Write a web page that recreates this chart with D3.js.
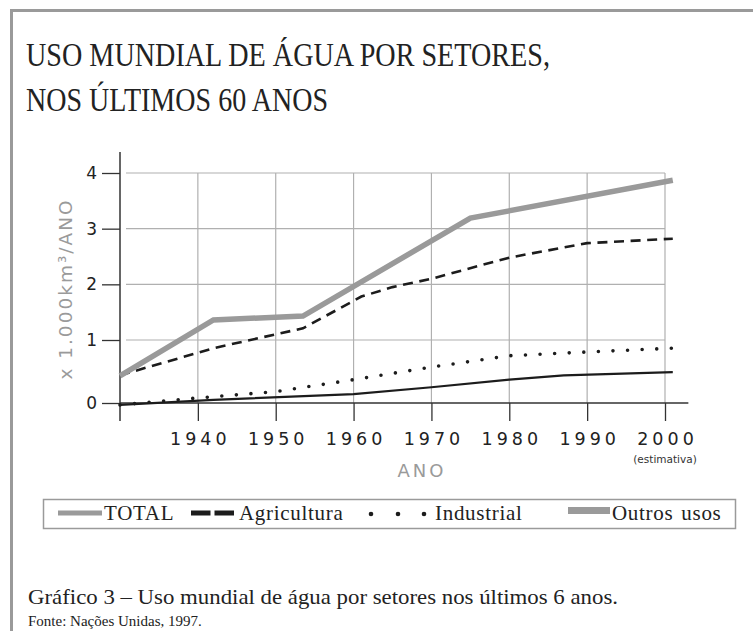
<!doctype html>
<html lang="pt">
  <head>
    <meta charset="utf-8">
    <title>Uso mundial de água por setores</title>
    <style>
      body {
        margin: 0;
        background: #fff;
      }

      svg text {
        font-family: "DejaVu Sans", sans-serif;
      }

      svg text.serif {
        font-family: "Liberation Serif", serif;
        fill: #222;
      }
    </style>
  </head>
  <body>
    <div id="chart"></div>

    <script src="https://cdn.jsdelivr.net/npm/d3@7"></script>
    <script>
      // valores em x 1.000 km³/ano
      const yearTicks = [1940, 1950, 1960, 1970, 1980, 1990, 2000]
      const valueTicks = [0, 1, 2, 3, 4]
      const total = [[1930, 0.43], [1942, 1.36], [1953.5, 1.43], [1975, 3.19], [2001, 3.87]]
      const agricultura = [[1930, 0.44], [1942, 0.87], [1953.5, 1.21], [1961, 1.78], [1965, 1.95], [1970, 2.1], [1980, 2.48], [1990, 2.74], [2001, 2.82]]
      const industrial = [[1930, -0.03], [1940, 0.08], [1950, 0.18], [1960, 0.37], [1970, 0.57], [1980, 0.75], [1990, 0.81], [2001, 0.87]]
      const outros = [[1930, -0.03], [1942, 0.05], [1960, 0.14], [1970, 0.25], [1980, 0.37], [1987, 0.44], [2001, 0.49]]
      const legendLabels = ['TOTAL', 'Agricultura', 'Industrial', 'Outros usos']

      const width = 753
      const height = 631
      const gray = '#9a9a9a'
      const ink = '#1c1c1c'

      const svg = d3.select('#chart')
        .append('svg')
          .attr('width', width)
          .attr('height', height)

      // moldura (só topo e esquerda aparecem)
      svg.append('path')
        .attr('d', `M11.5,${height} V10.5 H${width}`)
        .attr('fill', 'none')
        .attr('stroke', gray)
        .attr('stroke-width', 3)

      // título (fonte original é mais estreita)
      const title = ['USO MUNDIAL DE ÁGUA POR SETORES,', 'NOS ÚLTIMOS 60 ANOS']
      const titleWidths = [524, 302]
      svg.selectAll('text.title')
        .data(title)
        .enter()
          .append('text')
            .attr('class', 'serif title')
            .attr('x', 26)
            .attr('y', (d, i) => 66 + i * 45)
            .attr('font-size', 34)
            .attr('textLength', (d, i) => titleWidths[i])
            .attr('lengthAdjust', 'spacingAndGlyphs')
            .text(d => d)

      const x = d3.scaleLinear()
        .domain([1930, 2000])
        .range([120, 665])

      // a faixa 0-1 é um pouco mais alta que as outras no original
      const y = d3.scaleLinear()
        .domain([0, 1, 4])
        .range([403, 340, 173])

      // grade
      svg.append('g')
        .selectAll('line')
        .data(valueTicks.slice(1))
        .enter()
          .append('line')
            .attr('x1', x(1930) + 6)
            .attr('x2', x(2000))
            .attr('y1', d => y(d))
            .attr('y2', d => y(d))
            .attr('stroke', '#b0b0b0')
            .attr('stroke-width', 1.2)

      svg.append('g')
        .selectAll('line')
        .data(yearTicks)
        .enter()
          .append('line')
            .attr('x1', d => x(d))
            .attr('x2', d => x(d))
            .attr('y1', y(4))
            .attr('y2', y(0))
            .attr('stroke', '#b0b0b0')
            .attr('stroke-width', 1.2)

      // eixo y
      const yAxis = d3.axisLeft(y)
        .tickValues(valueTicks)
        .tickFormat(d3.format('d'))
        .tickSize(18)
        .tickPadding(5)
      const gy = svg.append('g')
        .attr('transform', `translate(${x(1930)},0)`)
        .call(yAxis)
      gy.select('.domain').remove()
      gy.selectAll('line').attr('stroke', '#333').attr('stroke-width', 1.3)
      gy.selectAll('text')
        .attr('font-size', 17)
        .attr('fill', '#222')
        .attr('font-family', '"DejaVu Sans", sans-serif')
      gy.append('line')
        .attr('y1', 152)
        .attr('y2', 421)
        .attr('stroke', '#333')
        .attr('stroke-width', 1.5)

      // eixo x
      const xAxis = d3.axisBottom(x)
        .tickValues(yearTicks)
        .tickSize(18)
        .tickPadding(12)
        .tickFormat(d3.format('d'))
      const gx = svg.append('g')
        .attr('transform', `translate(0,${y(0)})`)
        .call(xAxis)
      gx.select('.domain').remove()
      gx.append('line')
        .attr('x1', x(1930))
        .attr('x2', x(2003))
        .attr('stroke', '#333')
        .attr('stroke-width', 1.5)
      gx.selectAll('line').attr('stroke', '#333').attr('stroke-width', 1.3)
      gx.selectAll('text')
        .attr('font-size', 17.5)
        .attr('fill', '#222')
        .attr('font-family', '"DejaVu Sans", sans-serif')
        .attr('letter-spacing', 4)
        .attr('dx', 2)

      svg.append('text')
        .attr('x', x(2000))
        .attr('y', 463)
        .attr('text-anchor', 'middle')
        .attr('font-size', 10.5)
        .attr('fill', '#333')
        .text('(estimativa)')

      svg.append('text')
        .attr('x', 422)
        .attr('y', 477)
        .attr('text-anchor', 'middle')
        .attr('font-size', 18)
        .attr('letter-spacing', 3)
        .attr('fill', gray)
        .text('ANO')

      svg.append('text')
        .attr('transform', 'translate(72,289) rotate(-90)')
        .attr('text-anchor', 'middle')
        .attr('font-size', 18.5)
        .attr('letter-spacing', 2)
        .attr('fill', gray)
        .text('x 1.000km³/ANO')

      // linhas
      const line = d3.line()
        .x(d => x(d[0]))
        .y(d => y(d[1]))

      const series = [
        { data: outros, stroke: ink, width: 2.2, dash: null, cap: 'butt' },
        { data: industrial, stroke: ink, width: 3.6, dash: '0 14.6', cap: 'round' },
        { data: agricultura, stroke: ink, width: 2.6, dash: '10 6.6', cap: 'butt' },
        { data: total, stroke: gray, width: 5.5, dash: null, cap: 'butt' },
      ]

      svg.append('g')
        .selectAll('path')
        .data(series)
        .enter()
          .append('path')
            .attr('d', d => line(d.data))
            .attr('fill', 'none')
            .attr('stroke', d => d.stroke)
            .attr('stroke-width', d => d.width)
            .attr('stroke-dasharray', d => d.dash)
            .attr('stroke-linecap', d => d.cap)
            .attr('stroke-linejoin', 'miter')

      // legenda
      const legendX = [104, 239, 435, 612]
      const legend = svg.append('g')
      legend.append('rect')
        .attr('x', 43.5)
        .attr('y', 499.5)
        .attr('width', 692)
        .attr('height', 29)
        .attr('fill', 'none')
        .attr('stroke', gray)
        .attr('stroke-width', 1.5)

      legend.selectAll('text')
        .data(legendLabels)
        .enter()
          .append('text')
            .attr('class', 'serif')
            .attr('x', (d, i) => legendX[i])
            .attr('y', 520)
            .attr('font-size', 21)
            .attr('letter-spacing', 0.7)
            .attr('word-spacing', 2)
            .text(d => d)

      legend.append('line')
        .attr('x1', 58).attr('x2', 102)
        .attr('y1', 513).attr('y2', 513)
        .attr('stroke', gray)
        .attr('stroke-width', 5)
      legend.append('line')
        .attr('x1', 191).attr('x2', 234)
        .attr('y1', 513).attr('y2', 513)
        .attr('stroke', ink)
        .attr('stroke-width', 5)
        .attr('stroke-dasharray', '19.5 4')
      legend.selectAll('circle')
        .data([371, 398, 424])
        .enter()
          .append('circle')
            .attr('cx', d => d)
            .attr('cy', 514)
            .attr('r', 2.3)
            .attr('fill', ink)
      legend.append('rect')
        .attr('x', 568)
        .attr('y', 507)
        .attr('width', 42)
        .attr('height', 7)
        .attr('fill', gray)

      // rodapé
      svg.append('text')
        .attr('class', 'serif')
        .attr('x', 28)
        .attr('y', 604)
        .attr('font-size', 22)
        .attr('textLength', 590)
        .attr('lengthAdjust', 'spacingAndGlyphs')
        .text('Gráfico 3 – Uso mundial de água por setores nos últimos 6 anos.')

      svg.append('text')
        .attr('class', 'serif')
        .attr('x', 28)
        .attr('y', 626)
        .attr('font-size', 15)
        .text('Fonte: Nações Unidas, 1997.')
    </script>
  </body>
</html>
